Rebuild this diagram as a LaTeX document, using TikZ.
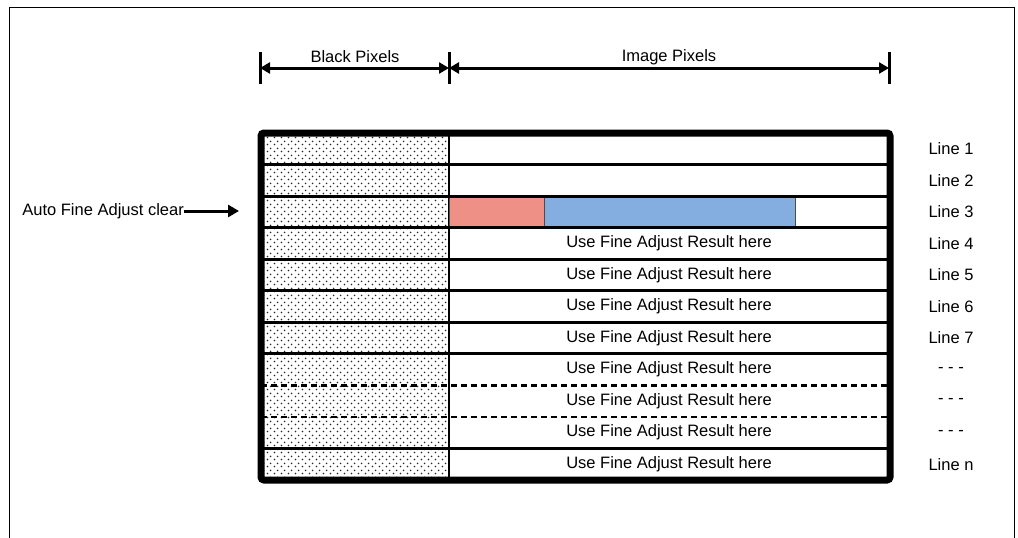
\documentclass[tikz,border=0pt]{standalone}
\usepackage{fontspec}
\setmainfont{Liberation Sans}
\usetikzlibrary{arrows.meta,patterns}
\pgfdeclarepatternformonly{pixdots}{\pgfpointorigin}{\pgfpoint{7pt}{7pt}}{\pgfpoint{7pt}{7pt}}{%
  \pgfpathcircle{\pgfpoint{1.75pt}{1.75pt}}{1pt}%
  \pgfpathcircle{\pgfpoint{5.25pt}{5.25pt}}{1pt}%
  \pgfusepath{fill}}
\definecolor{redc}{HTML}{EE9085}
\definecolor{bluec}{HTML}{84AEE0}
\begin{document}
\begin{tikzpicture}[x=1pt,y=-1pt,
  lbl/.style={font=\fontsize{16.5}{19}\selectfont, inner sep=0pt},
  sepline/.style={line width=3pt},
  dsepline/.style={line width=2.5pt, dash pattern=on 6pt off 4pt},
  dimarrow/.style={line width=3pt, {Triangle[length=10pt,width=11pt]}-{Triangle[length=10pt,width=11pt]}},
  tickline/.style={line width=3pt},
  cell/.style={draw=black!70, line width=0.8pt},
]
\def\rh{31.545}
\useasboundingbox (0,0) rectangle (1018,538);
\fill[white] (0,0) rectangle (1018,538);
\draw[line width=1pt] (9,538) -- (9,7) -- (1014,7) -- (1014,538);

% black pixel region
\fill[pattern=pixdots, pattern color=black!85] (261,133) rectangle (449,480);
\draw[line width=1.2pt] (449,133) -- (449,480);

% line 3 colour cells
\draw[cell, fill=redc] (449,{133+2*\rh}) rectangle (544,{133+3*\rh});
\draw[cell, fill=bluec] (544,{133+2*\rh}) rectangle (795,{133+3*\rh});

% row separators
\foreach \k in {1,...,7,10}
  \draw[sepline] (261,{133+\k*\rh}) -- (890,{133+\k*\rh});
\foreach \k in {8,9}
  \draw[dsepline] (261,{133+\k*\rh}) -- (890,{133+\k*\rh});

% outer border
\draw[line width=7pt, rounded corners=3pt] (261,133) rectangle (890,480);

% row texts
\foreach \k in {4,...,11}
  \node[lbl] (use\k) at (669,{133+(\k-0.5)*\rh}) {Use Fine Adjust Result here};
\foreach \k/\t in {1/Line 1,2/Line 2,3/Line 3,4/Line 4,5/Line 5,6/Line 6,7/Line 7,8/- - -,9/- - -,10/- - -,11/Line n}
  \node[lbl] (ln\k) at (951,{133+(\k-0.5)*\rh}) {\t};

% dimension arrows
\coordinate (t1) at (260,68);
\coordinate (t2) at (449,68);
\coordinate (t3) at (889,68);
\foreach \c in {t1,t2,t3}
  \draw[tickline] ([yshift=-16pt]\c) -- ([yshift=16pt]\c);
\draw[dimarrow] (t1) -- (t2);
\draw[dimarrow] (t2) -- (t3);
\node[lbl] (bp) at (355,57) {Black Pixels};
\node[lbl] (ip) at (669,57) {Image Pixels};

% left pointer
\node[lbl, anchor=east] (afa) at (184,211) {Auto Fine Adjust clear};
\coordinate (afaend) at (239,211);
\draw[line width=3pt, -{Triangle[length=11pt,width=12pt]}] (afa.east) -- (afaend);
\end{tikzpicture}
\end{document}
